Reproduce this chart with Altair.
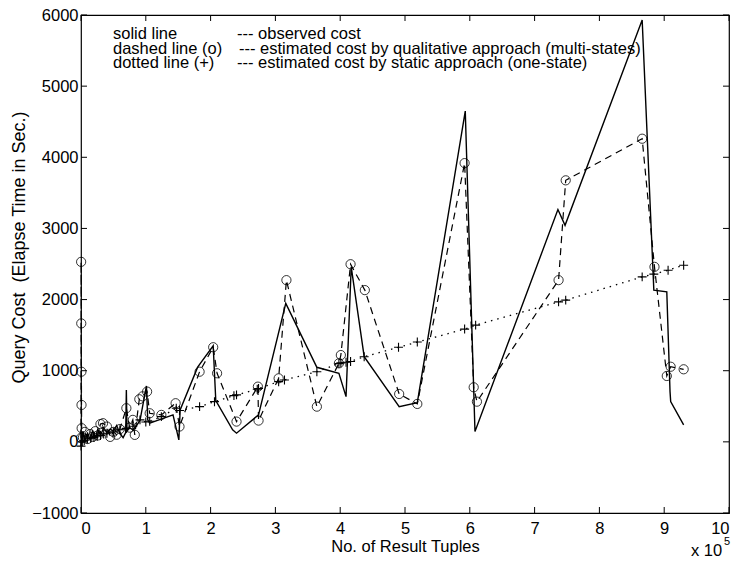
import altair as alt
import pandas as pd

# x values in units of 1e5 result tuples, y in seconds
obs_x = [0.00, 0.005, 0.01, 0.03, 0.06, 0.10, 0.14, 0.18, 0.22, 0.26, 0.30, 0.35, 0.40,
         0.45, 0.50, 0.55, 0.60, 0.65, 0.69, 0.70, 0.71, 0.75, 0.80, 0.85, 0.91, 1.01,
         1.03, 1.06, 1.42, 1.51, 1.53, 1.80, 2.04, 2.08, 2.34, 2.40, 2.74, 3.16, 3.64,
         3.98, 4.09, 4.17, 4.37, 4.91, 5.19, 5.93, 6.08, 7.36, 7.47, 8.66, 8.84, 9.04,
         9.09, 9.10, 9.30]
obs_y = [-60, 100, -20, 150, 20, 120, 40, 150, 60, 180, 90, 200, 130,
         180, 150, 230, 120, 60, 130, 730, 150, 200, 170, 220, 300, 786,
         309, 262, 379, 28, 449, 1050, 1350, 580, 168, 122, 379, 1946, 1048,
         964, 636, 2460, 1197, 495, 552, 4650, 145, 3265, 3044, 5930, 2133, 2109,
         706, 565, 239]

qual_x = [0.000, 0.002, 0.004, 0.006, 0.008, 0.010, 0.03, 0.06, 0.10, 0.14, 0.18, 0.22,
          0.26, 0.30, 0.34, 0.40, 0.45, 0.50, 0.55, 0.60, 0.70, 0.75, 0.80, 0.83, 0.90,
          0.95, 1.02, 1.06, 1.24, 1.46, 1.52, 1.83, 2.04, 2.10, 2.40, 2.73, 2.74, 3.05,
          3.17, 3.64, 3.98, 4.01, 4.16, 4.38, 4.91, 5.19, 5.92, 6.06, 6.11, 7.37, 7.48,
          8.66, 8.85, 9.04, 9.10, 9.30]
qual_y = [56, 2530, 1665, 986, 519, 192, 60, 140, 40, 110, 70, 150,
          90, 250, 262, 215, 70, 140, 100, 180, 473, 200, 309, 98, 599,
          640, 706, 402, 379, 543, 215, 986, 1330, 964, 285, 776, 299, 893,
          2273, 495, 1104, 1220, 2497, 2133, 673, 533, 3918, 767, 565, 2273, 3676,
          4261, 2460, 926, 1056, 1020]

stat_x = [0.00, 0.02, 0.05, 0.10, 0.15, 0.20, 0.25, 0.30, 0.35, 0.40, 0.50, 0.60, 0.70,
          0.80, 0.91, 1.00, 1.06, 1.24, 1.47, 1.52, 1.83, 2.06, 2.36, 2.40, 2.72, 2.74,
          3.05, 3.14, 3.64, 3.98, 4.01, 4.09, 4.16, 4.37, 4.90, 5.19, 5.92, 6.09, 7.37,
          7.48, 8.66, 8.84, 9.06, 9.30]
stat_y = [-60, 0, 20, 40, 50, 60, 80, 90, 110, 120, 140, 170, 190,
          220, 309, 280, 290, 355, 473, 440, 495, 565, 650, 660, 740, 750,
          846, 870, 986, 1100, 1110, 1120, 1130, 1197, 1329, 1403, 1585, 1641, 1968,
          1992, 2319, 2357, 2413, 2483]

x_ticks = list(range(0, 11))
y_ticks = list(range(-1000, 6001, 1000))

legend_left = ["solid line", "dashed line (o)", "dotted line (+)"]
legend_right = ["--- observed cost",
                "--- estimated cost by qualitative approach (multi-states)",
                "--- estimated cost by static approach (one-state)"]

FONT = "Liberation Sans"
FS = 16.5
W, H = 648, 498
TICK = 6

obs = pd.DataFrame({"x": obs_x, "y": obs_y, "i": range(len(obs_x))})
qual = pd.DataFrame({"x": qual_x, "y": qual_y, "i": range(len(qual_x))})
stat = pd.DataFrame({"x": stat_x, "y": stat_y, "i": range(len(stat_x))})
xt = pd.DataFrame({"x": x_ticks})
yt = pd.DataFrame({"y": y_ticks})

xs = alt.Scale(domain=[0, 10], nice=False, zero=False)
ys = alt.Scale(domain=[-1000, 6000], nice=False, zero=False)


def X(axis=None):
    return alt.X("x:Q", scale=xs, axis=axis)


def Y(axis=None):
    return alt.Y("y:Q", scale=ys, axis=axis)


obs_line = alt.Chart(obs).mark_line(color="black", strokeWidth=1.4).encode(
    x=X(), y=Y(), order="i:Q")
qual_line = alt.Chart(qual).mark_line(color="black", strokeWidth=1.2, strokeDash=[7, 5]).encode(
    x=X(), y=Y(), order="i:Q")
qual_pts = alt.Chart(qual).mark_point(shape="circle", filled=False, color="black",
                                      size=85, strokeWidth=0.8, opacity=1).encode(x=X(), y=Y())
stat_line = alt.Chart(stat).mark_line(color="black", strokeWidth=1.3, strokeDash=[1.5, 5]).encode(
    x=X(), y=Y(), order="i:Q")
stat_pts = alt.Chart(stat).mark_point(shape="M-1,0L1,0M0,-1L0,1", filled=False, color="black",
                                      size=80, strokeWidth=1.1, opacity=1).encode(x=X(), y=Y())

# labelled axes (no ticks; ticks drawn inward below)
ax_main = alt.Chart(obs).mark_point(opacity=0).encode(
    x=X(alt.Axis(orient="bottom", values=x_ticks, ticks=False, domain=False, grid=False,
                 labelPadding=7, title="No. of Result Tuples", titlePadding=2,
                 labelFontSize=FS, titleFontSize=FS, labelFont=FONT, titleFont=FONT,
                 titleFontWeight="normal", labelColor="black", titleColor="black")),
    y=Y(alt.Axis(orient="left", values=y_ticks, ticks=False, domain=False, grid=False,
                 labelPadding=3, title="Query Cost\u00a0 (Elapse Time in Sec.)", titlePadding=3,
                 titleY=232,
                 labelFontSize=FS, titleFontSize=18, labelFont=FONT, titleFont=FONT,
                 titleFontWeight="normal", labelColor="black", titleColor="black",
                 format="d")),
)

# inward tick marks on all four sides, placed through the scales
tick_style = dict(color="black", strokeWidth=1)
t_bottom = alt.Chart(xt).mark_rule(**tick_style).encode(
    x=X(), y=alt.value(H), y2=alt.value(H - TICK))
t_top = alt.Chart(xt).mark_rule(**tick_style).encode(
    x=X(), y=alt.value(0), y2=alt.value(TICK))
t_left = alt.Chart(yt).mark_rule(**tick_style).encode(
    y=Y(), x=alt.value(0), x2=alt.value(TICK))
t_right = alt.Chart(yt).mark_rule(**tick_style).encode(
    y=Y(), x=alt.value(W), x2=alt.value(W - TICK))

legend_layers = []
row_y = [19, 34, 48]
for k in range(3):
    legend_layers.append(
        alt.Chart(pd.DataFrame({"t": [legend_left[k]]})).mark_text(
            align="left", baseline="middle", font=FONT, fontSize=FS, color="black").encode(
            text="t:N", x=alt.value(32), y=alt.value(row_y[k])))
    legend_layers.append(
        alt.Chart(pd.DataFrame({"t": [legend_right[k]]})).mark_text(
            align="left", baseline="middle", font=FONT, fontSize=FS, color="black").encode(
            text="t:N", x=alt.value(156 if k != 1 else 158), y=alt.value(row_y[k])))

exp_a = alt.Chart(pd.DataFrame({"t": ["x 10"]})).mark_text(
    align="left", baseline="middle", font=FONT, fontSize=FS, color="black").encode(
    text="t:N", x=alt.value(W - 38), y=alt.value(H + 38))
exp_b = alt.Chart(pd.DataFrame({"t": ["5"]})).mark_text(
    align="left", baseline="middle", font=FONT, fontSize=11, color="black").encode(
    text="t:N", x=alt.value(W - 5), y=alt.value(H + 29))

chart = alt.layer(
    ax_main, t_bottom, t_top, t_left, t_right,
    obs_line, qual_line, stat_line, qual_pts, stat_pts,
    *legend_layers, exp_a, exp_b,
).resolve_axis(x="independent", y="independent").properties(
    width=W, height=H,
    autosize=alt.AutoSizeParams(type="none"),
    padding={"left": 81, "top": 15, "right": 11, "bottom": 50},
    background="white",
).configure_view(stroke="black", strokeWidth=1.2)

chart.save("out.html", embed_options={"renderer": "svg", "actions": False})
